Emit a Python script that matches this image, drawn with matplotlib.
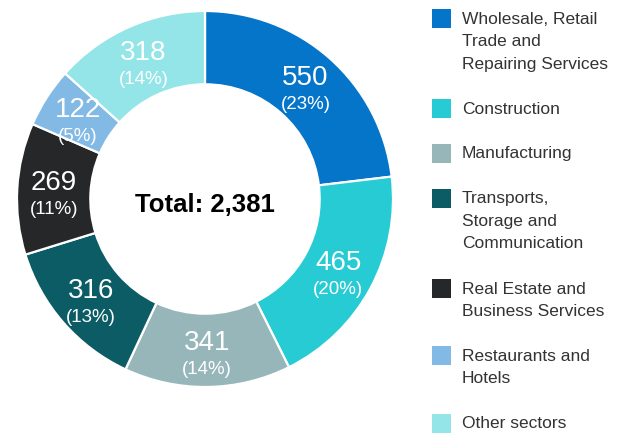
import numpy as np
import matplotlib.pyplot as plt
from matplotlib.patches import Rectangle

plt.rcParams['font.family'] = ['Liberation Sans', 'DejaVu Sans']

sectors = ["Wholesale, Retail\nTrade and\nRepairing Services",
           "Construction",
           "Manufacturing",
           "Transports,\nStorage and\nCommunication",
           "Real Estate and\nBusiness Services",
           "Restaurants and\nHotels",
           "Other sectors"]
values = [550, 465, 341, 316, 269, 122, 318]
percents = [23, 20, 14, 13, 11, 5, 14]
total = 2381
colors = ["#0575C9", "#27CBD4", "#96B6BA", "#0C5C66", "#262729", "#83B9E5", "#93E5E8"]

W, H = 626, 435
fig = plt.figure(figsize=(W / 100, H / 100), dpi=100)

# donut: centre (205, 200) px from top-left, outer radius 188 px
cx, cy, R = 205, 200, 188
ax = fig.add_axes([(cx - R) / W, (H - cy - R) / H, 2 * R / W, 2 * R / H])
inner = 0.61
wedges, _ = ax.pie(values, colors=colors, startangle=90, counterclock=False,
                   radius=1, wedgeprops=dict(width=1 - inner, edgecolor="white", linewidth=1.6))
ax.set_xlim(-1, 1)
ax.set_ylim(-1, 1)
ax.set_aspect("equal")
ax.axis("off")

rmid = (1 + inner) / 2
for w, v, p in zip(wedges, values, percents):
    ang = np.deg2rad((w.theta1 + w.theta2) / 2)
    x, y = rmid * np.cos(ang), rmid * np.sin(ang)
    ax.text(x, y + 0.045, str(v), ha="center", va="center", color="white", fontsize=20)
    ax.text(x, y - 0.095, f"({p}%)", ha="center", va="center", color="white", fontsize=13.5)

ax.text(0, -0.025, f"Total: {total:,}", ha="center", va="center", fontsize=18.5,
        fontweight="bold", color="black")

# legend
line_h = 22.5
gap = 45
y = 19
for label, c in zip(sectors, colors):
    n = label.count("\n") + 1
    fig.add_artist(Rectangle((432 / W, 1 - (y + 9.5) / H), 19 / W, 19 / H,
                             transform=fig.transFigure, color=c, lw=0))
    for i, line in enumerate(label.split("\n")):
        fig.text(462 / W, 1 - (y + i * line_h) / H, line, ha="left", va="center",
                 fontsize=12.5, color="#333333")
    y += (n - 1) * line_h + gap

fig.savefig("out.png", dpi=100)
